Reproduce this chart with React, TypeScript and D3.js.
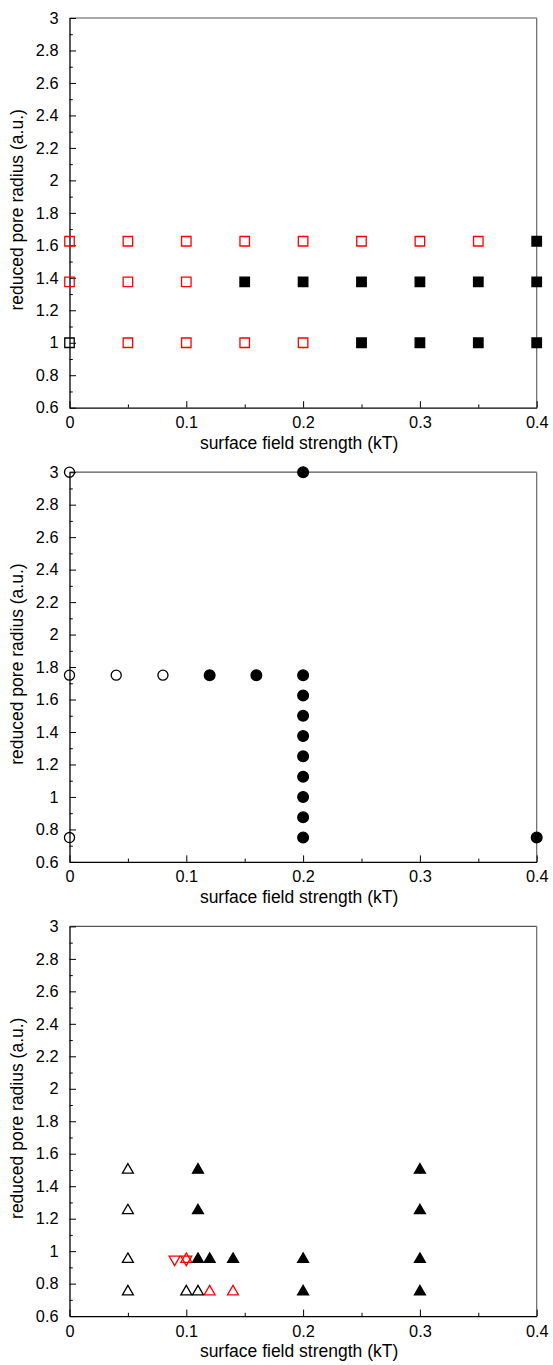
import React, { useEffect, useRef } from 'react'
import * as d3 from 'd3'

// tick values
const xTicks = [0, 0.1, 0.2, 0.3, 0.4]
const xMinor = [0.05, 0.15, 0.25, 0.35]
const yTicks = [0.6, 0.8, 1, 1.2, 1.4, 1.6, 1.8, 2, 2.2, 2.4, 2.6, 2.8, 3]
const yMinor = [0.7, 0.9, 1.1, 1.3, 1.5, 1.7, 1.9, 2.1, 2.3, 2.5, 2.7, 2.9]

// panel 1 : squares
const sqBlackOpen = [[0, 1.0]]
const sqRedOpen = [
  [0, 1.625], [0.05, 1.625], [0.1, 1.625], [0.15, 1.625], [0.2, 1.625], [0.25, 1.625], [0.3, 1.625], [0.35, 1.625],
  [0, 1.375], [0.05, 1.375], [0.1, 1.375],
  [0.05, 1.0], [0.1, 1.0], [0.15, 1.0], [0.2, 1.0]
]
const sqBlackFilled = [
  [0.4, 1.625],
  [0.15, 1.375], [0.2, 1.375], [0.25, 1.375], [0.3, 1.375], [0.35, 1.375], [0.4, 1.375],
  [0.25, 1.0], [0.3, 1.0], [0.35, 1.0], [0.4, 1.0]
]

// panel 2 : circles
const circOpen = [[0, 3], [0, 1.75], [0.04, 1.75], [0.08, 1.75], [0, 0.75]]
const circFilled = [
  [0.2, 3], [0.12, 1.75], [0.16, 1.75],
  [0.2, 1.75], [0.2, 1.625], [0.2, 1.5], [0.2, 1.375], [0.2, 1.25], [0.2, 1.125], [0.2, 1.0], [0.2, 0.875], [0.2, 0.75],
  [0.4, 0.75]
]

// panel 3 : triangles
const triOpen = [[0.05, 1.5], [0.05, 1.25], [0.05, 0.95], [0.05, 0.75], [0.1, 0.75], [0.11, 0.75]]
const triRedUp = [[0.1, 0.95], [0.12, 0.75], [0.14, 0.75]]
const triRedDown = [[0.09, 0.95], [0.1, 0.95]]
const triFilled = [
  [0.11, 1.5], [0.3, 1.5],
  [0.11, 1.25], [0.3, 1.25],
  [0.11, 0.95], [0.12, 0.95], [0.14, 0.95], [0.2, 0.95], [0.3, 0.95],
  [0.2, 0.75], [0.3, 0.75]
]

const panels = [
  {
    top: 18,
    series: [
      { pts: sqRedOpen, shape: d3.symbolSquare, size: 90, fill: 'none', stroke: '#ff0000', rot: 0 },
      { pts: sqBlackOpen, shape: d3.symbolSquare, size: 90, fill: 'none', stroke: '#000', rot: 0 },
      { pts: sqBlackFilled, shape: d3.symbolSquare, size: 90, fill: '#000', stroke: '#000', rot: 0 }
    ]
  },
  {
    top: 472.2,
    series: [
      { pts: circOpen, shape: d3.symbolCircle, size: 80, fill: 'none', stroke: '#000', rot: 0 },
      { pts: circFilled, shape: d3.symbolCircle, size: 90, fill: '#000', stroke: '#000', rot: 0 }
    ]
  },
  {
    top: 926.4,
    series: [
      { pts: triOpen, shape: d3.symbolTriangle, size: 52, fill: 'none', stroke: '#000', rot: 0 },
      { pts: triRedDown, shape: d3.symbolTriangle, size: 52, fill: 'none', stroke: '#ff0000', rot: 180 },
      { pts: triRedUp, shape: d3.symbolTriangle, size: 52, fill: 'none', stroke: '#ff0000', rot: 0 },
      { pts: triFilled, shape: d3.symbolTriangle, size: 52, fill: '#000', stroke: '#000', rot: 0 }
    ]
  }
]

const left = 69.5, right = 536.7, plotH = 389.7
const font = 'Liberation Sans, Arial, sans-serif'

const App = () => {
  const ref = useRef(null)

  useEffect(() => {
    const svg = d3.select(ref.current)
    svg.selectAll('*').remove()

    const x = d3.scaleLinear().domain([0, 0.4]).range([left, right])
    const fmt = d => String(+(+d).toFixed(1))

    panels.forEach(p => {
      const y = d3.scaleLinear().domain([0.6, 3]).range([p.top + plotH, p.top])
      const g = svg.append('g')
      const bottom = p.top + plotH

      // frame: top/right grey
      g.append('line').attr('x1', left).attr('x2', right).attr('y1', p.top).attr('y2', p.top)
        .attr('stroke', '#555').attr('stroke-width', 1.2)
      g.append('line').attr('x1', right).attr('x2', right).attr('y1', p.top).attr('y2', bottom)
        .attr('stroke', '#666').attr('stroke-width', 1.2)

      // y axis
      const yAxis = g.append('g').attr('transform', `translate(${left},0)`)
        .call(d3.axisLeft(y).tickValues(yTicks).tickSizeInner(-6.5).tickSizeOuter(0).tickPadding(11).tickFormat(fmt))
      yAxis.select('.domain').attr('stroke', '#000').attr('stroke-width', 1.3)
      yAxis.selectAll('text').attr('font-family', font).attr('font-size', 16.3).attr('fill', '#000')
      g.append('g').attr('transform', `translate(${left},0)`)
        .call(d3.axisLeft(y).tickValues(yMinor).tickSize(-3.3).tickFormat(() => ''))
        .select('.domain').remove()

      // x axis
      const xAxis = g.append('g').attr('transform', `translate(0,${bottom})`)
        .call(d3.axisBottom(x).tickValues(xTicks).tickSizeInner(-6.5).tickSizeOuter(0).tickPadding(9).tickFormat(fmt))
      xAxis.select('.domain').attr('stroke', '#000').attr('stroke-width', 1.3)
      xAxis.selectAll('text').attr('font-family', font).attr('font-size', 16.3).attr('fill', '#000')
      g.append('g').attr('transform', `translate(0,${bottom})`)
        .call(d3.axisBottom(x).tickValues(xMinor).tickSize(-3.3).tickFormat(() => ''))
        .select('.domain').remove()

      g.append('text')
        .attr('x', (left + right) / 2 - 4)
        .attr('y', bottom + 41)
        .attr('text-anchor', 'middle')
        .attr('font-family', font)
        .attr('font-size', 17.5)
        .text('surface field strength (kT)')

      g.append('text')
        .attr('transform', `translate(23,${p.top + plotH / 2 - 3}) rotate(-90)`)
        .attr('text-anchor', 'middle')
        .attr('font-family', font)
        .attr('font-size', 17.5)
        .text('reduced pore radius (a.u.)')

      // markers
      p.series.forEach(s => {
        const sym = d3.symbol().type(s.shape).size(s.size)
        g.append('g').selectAll('path')
          .data(s.pts)
          .enter()
          .append('path')
          .attr('d', sym)
          .attr('transform', d => `translate(${x(d[0])},${y(d[1])}) rotate(${s.rot})`)
          .attr('fill', s.fill)
          .attr('stroke', s.stroke)
          .attr('stroke-width', 1.3)
      })
    })
  })

  return (
    <svg ref={ref} width={553} height={1365}
      style={{ position: 'absolute', left: 0, top: 0, background: '#fff' }} />
  )
}

export default App
